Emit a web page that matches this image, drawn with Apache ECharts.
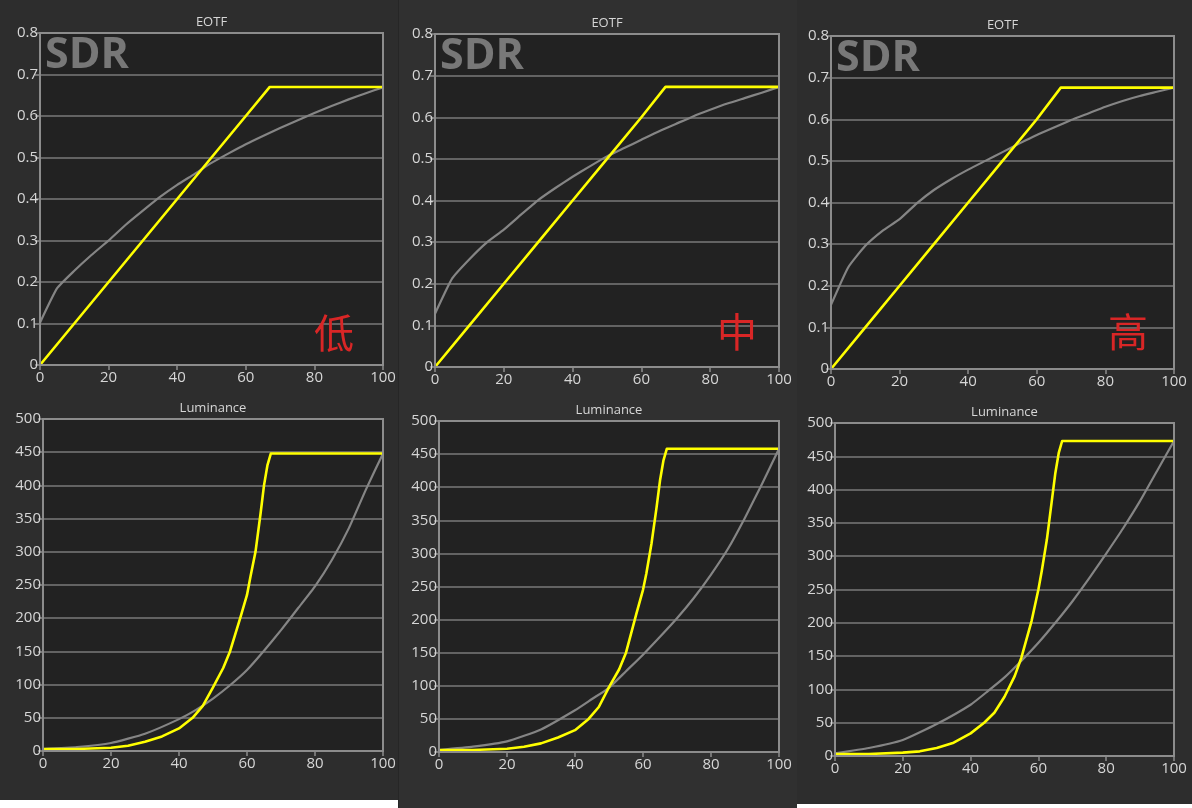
<!DOCTYPE html>
<html>
<head>
<meta charset="utf-8">
<script src="https://cdn.jsdelivr.net/npm/echarts@6/dist/echarts.min.js"></script>
<style>
  html, body { margin: 0; padding: 0; background: #fff; }
  #wrap { position: relative; width: 1192px; height: 808px; background: #fff; }
  .pane { position: absolute; top: 0; }
  #main { position: absolute; left: 0; top: 0; width: 1192px; height: 808px; }
</style>
</head>
<body>
<div id="wrap">
  <div class="pane" style="left:0;width:398px;height:800px;background:#2d2d2d"></div>
  <div class="pane" style="left:398px;width:1px;height:808px;background:#262626"></div>
  <div class="pane" style="left:399px;width:398px;height:808px;background:#303030"></div>
  <div class="pane" style="left:797px;width:395px;height:804px;background:#2d2d2d"></div>
  <div id="main"></div>
</div>
<script>
// 三张截图: 低 / 中 / 高
const levels = ["低", "中", "高"];

// EOTF 目标曲线 (灰)
const eotfRefX = [0, 5, 10, 15, 20, 25, 30, 35, 40, 45, 50, 55, 60, 65, 70, 75, 80, 85, 90, 95, 100];
const eotfRefLow = [0.102, 0.185, 0.227, 0.265, 0.300, 0.338, 0.372, 0.405, 0.434, 0.460, 0.487, 0.510, 0.532, 0.552, 0.571, 0.589, 0.607, 0.624, 0.640, 0.655, 0.669];
const eotfRefMid = [0.128, 0.213, 0.259, 0.299, 0.330, 0.366, 0.401, 0.430, 0.457, 0.482, 0.506, 0.526, 0.546, 0.566, 0.584, 0.602, 0.618, 0.633, 0.646, 0.659, 0.673];
const eotfRefHigh = [0.154, 0.244, 0.296, 0.332, 0.360, 0.398, 0.430, 0.456, 0.479, 0.500, 0.521, 0.542, 0.562, 0.580, 0.598, 0.614, 0.630, 0.644, 0.656, 0.666, 0.676];

// EOTF 实测 (黄)
const eotfX = [0, 10, 20, 30, 40, 50, 60, 67, 100];
const eotfLow = [0, 0.10, 0.20, 0.30, 0.40, 0.50, 0.60, 0.670, 0.670];
const eotfMid = [0, 0.10, 0.20, 0.30, 0.40, 0.50, 0.60, 0.673, 0.673];
const eotfHigh = [0, 0.10, 0.20, 0.30, 0.40, 0.50, 0.60, 0.676, 0.676];

// 亮度 目标曲线 (灰)
const lumRefX = [0, 10, 20, 30, 40, 45, 50, 55, 60, 65, 70, 75, 80, 85, 90, 95, 100];
const lumRefLow = [3, 6, 12, 26, 48, 62, 79, 99, 122, 151, 182, 215, 248, 288, 336, 394, 448];
const lumRefMid = [3, 8, 16, 34, 63, 80, 97, 122, 147, 174, 202, 233, 268, 307, 354, 405, 458];
const lumRefHigh = [4, 12, 24, 48, 77, 97, 118, 143, 170, 200, 232, 267, 304, 342, 383, 428, 473];

// 亮度 实测 (黄)
const lumX = [0, 10, 20, 25, 30, 35, 40, 44, 47, 50, 53, 55, 58, 60, 61, 62.5, 64, 65, 66, 67, 100];
const lumLow = [3, 3, 5, 8, 14, 22, 34, 50, 68, 96, 125, 150, 200, 235, 262, 300, 358, 400, 430, 448, 448];
const lumMid = [3, 3, 5, 8, 13, 22, 33, 50, 68, 98, 125, 150, 208, 245, 270, 315, 370, 410, 440, 458, 458];
const lumHigh = [3, 3, 5, 7, 12, 20, 34, 50, 65, 89, 120, 148, 203, 250, 278, 325, 385, 425, 455, 473, 473];

// 刻度
const xTicks = [0, 20, 40, 60, 80, 100];
const eotfTicks = [0, 0.1, 0.2, 0.3, 0.4, 0.5, 0.6, 0.7, 0.8];
const lumTicks = [0, 50, 100, 150, 200, 250, 300, 350, 400, 450, 500];

function zip(xs, ys) {
    return xs.map((x, i) => [x, ys[i]]);
}

const chart = echarts.init(document.getElementById("main"), null, { renderer: "canvas" });

// 六个绘图区 (上 EOTF, 下 Luminance)
const grids = [
    { left: 40, top: 33, width: 343, height: 332 },
    { left: 435, top: 34, width: 344, height: 333 },
    { left: 831, top: 36, width: 343, height: 333 },
    { left: 43, top: 419, width: 340, height: 332 },
    { left: 439, top: 421, width: 340, height: 331 },
    { left: 835, top: 423, width: 339, height: 333 },
];
// 红字位置 (距右边 / 距顶部)
const markOffset = [[49, 300], [42, 298], [46, 296]];

const fontFamily = "'Open Sans', 'Noto Sans', sans-serif";
const labelColor = "#d6d6d6";
const axisColor = "#8c8c8c";

const xAxes = [];
const yAxes = [];
const series = [];
const graphics = [];

const eotfRefs = [eotfRefLow, eotfRefMid, eotfRefHigh];
const eotfMeas = [eotfLow, eotfMid, eotfHigh];
const lumRefs = [lumRefLow, lumRefMid, lumRefHigh];
const lumMeas = [lumLow, lumMid, lumHigh];

grids.forEach((g, i) => {
    const isEotf = i < 3;
    const col = i % 3;
    xAxes.push({
        gridIndex: i,
        type: "value",
        min: 0,
        max: 100,
        interval: xTicks[1] - xTicks[0],
        axisLine: { lineStyle: { color: axisColor, width: 2 } },
        axisTick: { show: true, length: 5, lineStyle: { color: axisColor, width: 1.5 } },
        axisLabel: { color: labelColor, fontSize: 15, fontFamily: fontFamily, margin: 5 },
        splitLine: { show: false },
    });
    const ticks = isEotf ? eotfTicks : lumTicks;
    yAxes.push({
        gridIndex: i,
        type: "value",
        min: 0,
        max: ticks[ticks.length - 1],
        interval: ticks[1] - ticks[0],
        axisLine: { show: true, lineStyle: { color: axisColor, width: 2 } },
        axisTick: { show: true, length: 5, lineStyle: { color: axisColor, width: 1.5 } },
        axisLabel: { color: labelColor, fontSize: 15, fontFamily: fontFamily, margin: 2 },
        splitLine: { show: true, lineStyle: { color: "#7a7a7a", width: 1.5 } },
    });
    // 灰色目标线
    series.push({
        type: "line",
        xAxisIndex: i,
        yAxisIndex: i,
        data: isEotf ? zip(eotfRefX, eotfRefs[col]) : zip(lumRefX, lumRefs[col]),
        symbol: "none",
        smooth: 0.15,
        lineStyle: { color: "#858585", width: 2.2, join: "round" },
        z: 3,
    });
    // 黄色实测线
    series.push({
        type: "line",
        xAxisIndex: i,
        yAxisIndex: i,
        data: isEotf ? zip(eotfX, eotfMeas[col]) : zip(lumX, lumMeas[col]),
        symbol: "none",
        smooth: false,
        lineStyle: { color: "#ffff00", width: 2.6, join: "round" },
        z: 4,
    });
    // 外框
    graphics.push({
        type: "rect",
        shape: { x: g.left, y: g.top, width: g.width, height: g.height },
        style: { fill: null, stroke: axisColor, lineWidth: 2 },
        silent: true,
        z: 5,
    });
    // 标题
    graphics.push({
        type: "text",
        x: g.left + g.width / 2,
        y: g.top - 11,
        style: {
            text: isEotf ? "EOTF" : "Luminance",
            fill: labelColor,
            font: "13px " + fontFamily,
            align: "center",
            verticalAlign: "middle",
        },
        z: 10,
    });
    if (isEotf) {
        graphics.push({
            type: "text",
            x: g.left + 5,
            y: g.top + 23,
            style: {
                text: "SDR",
                fill: "#787878",
                font: "bold 43px " + fontFamily,
                verticalAlign: "middle",
            },
            z: 10,
        });
        graphics.push({
            type: "text",
            x: g.left + g.width - markOffset[col][0],
            y: g.top + markOffset[col][1],
            style: {
                text: levels[col],
                fill: "#d92626",
                font: "40px 'Noto Sans CJK SC'",
                align: "center",
                verticalAlign: "middle",
            },
            z: 10,
        });
    }
});

chart.setOption({
    backgroundColor: "transparent",
    animation: false,
    grid: grids.map((g) => Object.assign({
        show: true,
        backgroundColor: "#222222",
        borderWidth: 0,
    }, g)),
    xAxis: xAxes,
    yAxis: yAxes,
    series: series,
    graphic: graphics,
});
</script>
</body>
</html>
